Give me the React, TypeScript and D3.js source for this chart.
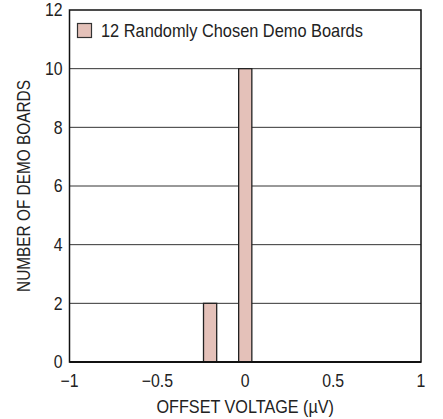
import React from "react";
import * as d3 from "d3";

const binCenters = [-0.2, 0];
const counts = [2, 10];
const binWidth = 0.075;
const xTicks = [-1, -0.5, 0, 0.5, 1];
const xTickLabels = ["\u22121", "\u22120.5", "0", "0.5", "1"];
const yTicks = [0, 2, 4, 6, 8, 10, 12];
const legendLabel = "12 Randomly Chosen Demo Boards";
const xTitle = "OFFSET VOLTAGE (\u00B5V)";
const yTitle = "NUMBER OF DEMO BOARDS";

const W = 443, H = 419;
const M = { left: 69.5, right: 22, top: 10, bottom: 57 };
const FONT = "'Liberation Sans Narrow', 'Arial Narrow', 'Liberation Sans', sans-serif";
const FILL = "#E4C1B9";

function T({ x, y, sx = 0.88, rot = 0, anchor = "start", dy, children }: any) {
  return (
    <g transform={`translate(${x},${y}) rotate(${rot}) scale(${sx},1)`}>
      <text textAnchor={anchor} dy={dy} fontSize={18} fill="#222">{children}</text>
    </g>
  );
}

export default function App() {
  const x = d3.scaleLinear().domain([-1, 1]).range([M.left, W - M.right]);
  const y = d3.scaleLinear().domain([0, 12]).range([H - M.bottom, M.top]);
  const data = binCenters.map((c, i) => ({ c, n: counts[i] }));
  return (
    <svg width={W} height={H} style={{ position: "absolute", left: 0, top: 0, background: "#fff" }} fontFamily={FONT}>
      {yTicks.filter(t => t > 0 && t < 12).map(t => (
        <line key={t} x1={x(-1)} x2={x(1)} y1={y(t)} y2={y(t)} stroke="#333" strokeWidth={1} />
      ))}
      {data.map((d, i) => (
        <rect key={i} x={x(d.c - binWidth / 2)} y={y(d.n)} width={x(d.c + binWidth / 2) - x(d.c - binWidth / 2)} height={y(0) - y(d.n)} fill={FILL} stroke="#222" strokeWidth={1.3} />
      ))}
      <rect x={x(-1)} y={y(12)} width={x(1) - x(-1)} height={y(0) - y(12)} fill="none" stroke="#111" strokeWidth={1.5} />
      <line x1={x(-1)} x2={x(1)} y1={y(0)} y2={y(0)} stroke="#111" strokeWidth={2} />
      {yTicks.map(t => (
        <T key={t} x={x(-1) - 7} y={y(t)} dy="0.36em" anchor="end">{t}</T>
      ))}
      {xTicks.map((t, i) => (
        <T key={t} x={x(t)} y={y(0) + 25} anchor="middle">{xTickLabels[i]}</T>
      ))}
      <T x={(x(-1) + x(1)) / 2} y={H - 6} anchor="middle" sx={0.9}>{xTitle}</T>
      <T x={30} y={(y(0) + y(12)) / 2} rot={-90} anchor="middle" sx={0.855}>{yTitle}</T>
      <rect x={77.5} y={23.5} width={14} height={14} fill={FILL} stroke="#333" strokeWidth={1.2} />
      <T x={101} y={37} sx={0.91}>{legendLabel}</T>
    </svg>
  );
}
